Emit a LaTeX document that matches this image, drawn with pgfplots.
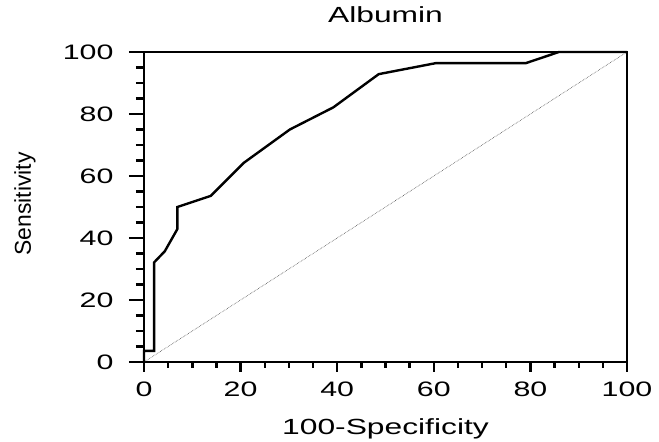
\documentclass[border=0pt]{standalone}
\usepackage{fontspec}
\setmainfont{Liberation Sans}[FakeStretch=1.45]
\newfontfamily\ylfont{Liberation Sans}
\usepackage{pgfplots}
\pgfplotsset{compat=1.18}
\pgfplotsset{common/.style={
  scale only axis,
  width=483bp, height=310bp,
  xmin=0, xmax=100, ymin=0, ymax=100,
  tick align=outside,
  /pgf/number format/assume math mode=true,
  tick label style={font=\fontsize{21}{25}\selectfont},
  clip=false,
}}
\begin{document}
\begin{tikzpicture}
\begin{axis}[
  common,
  name=ax,
  xtick=\empty,
  ytick={0,20,...,100}, minor y tick num=3, ytick pos=left,
  major tick length=15bp, minor tick length=8bp,
  every tick/.style={line width=2.4bp, black},
  every major tick/.style={line width=2.8bp, black},
  every minor tick/.style={line width=2.2bp, black},
  y tick style={line width=2.4bp, black},
  axis line style={line width=2.2bp},
  yticklabel style={xshift=-12bp},
  title={Albumin},
  title style={at={(axis description cs:0.5,1.0774)}, anchor=base, font=\fontsize{22}{26}\selectfont},
  ylabel={\ylfont\fontsize{23}{27}\selectfont Sensitivity},
  ylabel style={at={(axis description cs:-0.234,0.51)}, anchor=base, font=\fontsize{23}{27}\selectfont},
]
\addplot[black!70, densely dotted, line width=0.6bp] coordinates {(0,0) (100,100)};
\addplot[black, line width=2.4bp, line join=miter] coordinates {
(0,0) (0,3.57) (2.1,3.57) (2.1,32.14) (4.3,35.71) (6.9,42.86) (6.9,50)
(13.8,53.57) (20.7,64.29) (30.2,75) (39.2,82.14) (48.6,92.86)
(60.5,96.43) (79.1,96.43) (85.9,100) (100,100)};
\end{axis}
\begin{axis}[
  common,
  axis line style={draw=none},
  ytick=\empty,
  xtick={0,20,...,100}, minor x tick num=3, xtick pos=bottom,
  major tick length=10bp, minor tick length=6bp,
  every tick/.style={line width=2.4bp, black},
  every major tick/.style={line width=2.8bp, black},
  every minor tick/.style={line width=2.2bp, black},
  x tick style={line width=2.4bp, black},
  xticklabel style={yshift=-6bp},
  xlabel={100-Specificity},
  xlabel style={at={(axis description cs:0.5,-0.2323)}, anchor=base, font=\fontsize{22}{26}\selectfont},
]
\end{axis}
\path ([shift={(-144bp,-79bp)}]ax.south west) rectangle ([shift={(32bp,52bp)}]ax.north east);
\end{tikzpicture}
\end{document}
